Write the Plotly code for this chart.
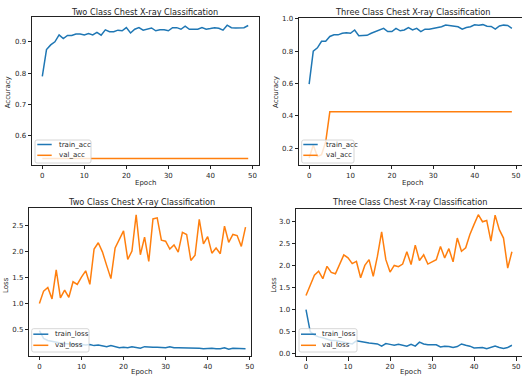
import plotly.graph_objects as go

epochs = list(range(50))

two_train_acc = [0.79, 0.875, 0.89, 0.90, 0.922, 0.91, 0.92, 0.92, 0.925, 0.925,
                 0.922, 0.926, 0.922, 0.93, 0.921, 0.938, 0.932, 0.932, 0.937, 0.935,
                 0.945, 0.928, 0.94, 0.945, 0.937, 0.94, 0.944, 0.935, 0.938, 0.938,
                 0.935, 0.945, 0.945, 0.94, 0.95, 0.94, 0.94, 0.94, 0.945, 0.94,
                 0.942, 0.945, 0.943, 0.937, 0.953, 0.945, 0.944, 0.945, 0.945, 0.952]
two_val_acc = [0.528] * 50

three_train_acc = [0.596, 0.80, 0.82, 0.86, 0.86, 0.89, 0.90, 0.90, 0.91, 0.913,
                   0.91, 0.93, 0.895, 0.897, 0.897, 0.91, 0.92, 0.93, 0.94, 0.92,
                   0.92, 0.94, 0.925, 0.93, 0.945, 0.93, 0.94, 0.92, 0.935, 0.935,
                   0.94, 0.945, 0.95, 0.96, 0.957, 0.955, 0.95, 0.935, 0.945, 0.95,
                   0.962, 0.96, 0.963, 0.953, 0.952, 0.935, 0.955, 0.96, 0.958, 0.94]
three_val_acc = [0.14, 0.22, 0.15, 0.16, 0.24] + [0.425] * 45

two_train_loss = [0.48, 0.33, 0.29, 0.27, 0.25, 0.24, 0.23, 0.22, 0.22, 0.21,
                  0.21, 0.20, 0.21, 0.19, 0.20, 0.19, 0.17, 0.19, 0.17, 0.15,
                  0.16, 0.15, 0.17, 0.15, 0.14, 0.17, 0.16, 0.16, 0.16, 0.16,
                  0.15, 0.17, 0.15, 0.15, 0.15, 0.14, 0.15, 0.15, 0.14, 0.13,
                  0.14, 0.14, 0.13, 0.13, 0.15, 0.12, 0.14, 0.14, 0.14, 0.13]
two_val_loss = [1.00, 1.24, 1.31, 1.09, 1.65, 1.11, 1.26, 1.12, 1.42, 1.37,
                1.51, 1.63, 1.37, 2.05, 2.17, 1.99, 1.73, 1.48, 2.07, 2.23,
                2.40, 1.85, 2.01, 2.71, 1.94, 2.28, 1.81, 2.63, 2.65, 2.22,
                2.20, 2.05, 2.13, 1.99, 2.37, 2.33, 1.83, 1.93, 2.62, 2.15,
                2.29, 1.97, 2.07, 1.96, 2.49, 2.18, 2.33, 2.31, 2.10, 2.47]

three_train_loss = [1.00, 0.50, 0.42, 0.38, 0.36, 0.33, 0.30, 0.30, 0.28, 0.27,
                    0.24, 0.22, 0.29, 0.28, 0.26, 0.24, 0.23, 0.22, 0.17, 0.23,
                    0.21, 0.19, 0.21, 0.19, 0.17, 0.21, 0.17, 0.26, 0.22, 0.20,
                    0.20, 0.20, 0.15, 0.17, 0.16, 0.14, 0.16, 0.22, 0.19, 0.17,
                    0.13, 0.13, 0.14, 0.11, 0.14, 0.17, 0.14, 0.12, 0.14, 0.19]
three_val_loss = [1.32, 1.53, 1.78, 1.87, 1.70, 1.98, 1.84, 1.81, 2.03, 2.24,
                  2.17, 2.04, 2.09, 1.72, 2.00, 2.13, 1.75, 2.21, 2.76, 2.13,
                  1.85, 2.00, 1.97, 2.03, 2.31, 2.02, 2.46, 2.11, 2.24, 2.03,
                  2.08, 2.13, 2.43, 2.17, 2.38, 2.08, 2.62, 2.32, 2.40, 2.70,
                  2.93, 3.15, 2.99, 3.02, 2.55, 3.14, 2.81, 2.62, 1.94, 2.31]

titles = ["Two Class Chest X-ray Classification", "Three Class Chest X-ray Classification",
          "Two Class Chest X-ray Classification", "Three Class Chest X-ray Classification"]
x_tick_vals = [0, 10, 20, 30, 40, 50]

BLUE = "#1f77b4"
ORANGE = "#ff7f0e"
W, H = 522, 376
FONT = "DejaVu Sans"
TXT = "#262626"
AX = "#222222"


def px(x):
    return x / W


def py(y):
    return 1 - y / H


# panel geometry (pixels): left, right, top, bottom
panels = [
    (32, 258.5, 17, 165),
    (299, 522, 18, 165),
    (29.3, 251, 208, 356),
    (296, 522, 208.5, 356.3),
]
xranges = [[-2.45, 51.45], [-2.45, 51.45], [-2.4, 50.3], [-2.38, 51.4]]
yranges = [[0.507, 0.979], [0.097, 1.004], [-0.01, 2.84], [-0.06, 3.29]]
yticks = [[0.6, 0.7, 0.8, 0.9], [0.2, 0.4, 0.6, 0.8, 1.0],
          [0.5, 1.0, 1.5, 2.0, 2.5], [0.0, 0.5, 1.0, 1.5, 2.0, 2.5, 3.0]]
ylabels = ["Accuracy", "Accuracy", "Loss", "Loss"]
series = [
    (two_train_acc, two_val_acc, "train_acc", "val_acc"),
    (three_train_acc, three_val_acc, "train_acc", "val_acc"),
    (two_train_loss, two_val_loss, "train_loss", "val_loss"),
    (three_train_loss, three_val_loss, "train_loss", "val_loss"),
]
# text placement (pixels)
title_pos = [(144.7, 11.7), (412, 11.7), (141.7, 202), (409, 202)]
epoch_pos = [(145, 183), (412, 182.5), (141, 372), (410, 372)]
ylab_pos = [(8.3, 92), (276, 92), (6, 285), (273.7, 285)]
# legend boxes: left, right, top, bottom, sample x0, x1, text x, row1 y, row2 y
legends = [
    (35, 91, 140, 163, 37.3, 51.7, 56.7, 144.5, 155.3),
    (301.7, 354, 140, 163, 303.3, 317.7, 323.7, 144.5, 155.3),
    (31.7, 89, 328.7, 352, 33.3, 48.3, 53.3, 334.2, 345.3),
    (299, 357, 328.7, 352, 301, 316, 320.3, 334.2, 345.3),
]

fig = go.Figure()
layout = dict(
    width=W, height=H, margin=dict(l=0, r=0, t=0, b=0, autoexpand=False),
    paper_bgcolor="white", plot_bgcolor="white",
    font=dict(family=FONT, size=7, color=TXT),
    annotations=[], shapes=[], showlegend=False,
)


def rounded_box(l, r, t, b, rad=2.0):
    pts = (
        f"M {px(l + rad)},{py(t)} L {px(r - rad)},{py(t)} Q {px(r)},{py(t)} {px(r)},{py(t + rad)} "
        f"L {px(r)},{py(b - rad)} Q {px(r)},{py(b)} {px(r - rad)},{py(b)} "
        f"L {px(l + rad)},{py(b)} Q {px(l)},{py(b)} {px(l)},{py(b - rad)} "
        f"L {px(l)},{py(t + rad)} Q {px(l)},{py(t)} {px(l + rad)},{py(t)} Z"
    )
    return pts


for i, (l, r, t, b) in enumerate(panels):
    k = "" if i == 0 else str(i + 1)
    tr, va, n1, n2 = series[i]
    fig.add_trace(go.Scatter(x=epochs, y=tr, mode="lines", name=n1,
                             line=dict(color=BLUE, width=1.5),
                             xaxis="x" + k, yaxis="y" + k))
    fig.add_trace(go.Scatter(x=epochs, y=va, mode="lines", name=n2,
                             line=dict(color=ORANGE, width=1.5),
                             xaxis="x" + k, yaxis="y" + k))
    right_cut = (r >= W)
    layout["xaxis" + k] = dict(
        domain=[px(l), min(px(r), 1.0)], range=xranges[i], anchor="y" + k,
        tickvals=x_tick_vals, ticks="outside", ticklen=3.5, tickwidth=0.8,
        tickcolor=AX, showline=True, linecolor=AX, linewidth=0.8, mirror=True,
        showgrid=False, zeroline=False, tickfont=dict(size=7, color=TXT),
        ticklabeloverflow="allow",
    )
    layout["yaxis" + k] = dict(
        domain=[py(b), py(t)], range=yranges[i], anchor="x" + k,
        tickvals=yticks[i], tickformat=".1f", ticks="outside", ticklen=3.5, tickwidth=0.8,
        tickcolor=AX, showline=True, linecolor=AX, linewidth=0.8,
        mirror=False if right_cut else True,
        showgrid=False, zeroline=False, tickfont=dict(size=7, color=TXT),
    )
    tx, ty = title_pos[i]
    layout["annotations"].append(dict(
        text=titles[i], x=px(tx), y=py(ty), xref="paper", yref="paper",
        xanchor="center", yanchor="middle", showarrow=False,
        font=dict(size=8.2, color=TXT, family=FONT)))
    ex, ey = epoch_pos[i]
    layout["annotations"].append(dict(
        text="Epoch", x=px(ex), y=py(ey), xref="paper", yref="paper",
        xanchor="center", yanchor="middle", showarrow=False,
        font=dict(size=7, color=TXT, family=FONT)))
    yx, yy = ylab_pos[i]
    layout["annotations"].append(dict(
        text=ylabels[i], x=px(yx), y=py(yy), xref="paper", yref="paper",
        xanchor="center", yanchor="middle", textangle=-90, showarrow=False,
        font=dict(size=7, color=TXT, family=FONT)))

    # legend (box, line samples, labels)
    bl, br, bt, bb, sx0, sx1, tx0, r1, r2 = legends[i]
    layout["shapes"].append(dict(
        type="path", path=rounded_box(bl, br, bt, bb), xref="paper", yref="paper",
        fillcolor="rgba(255,255,255,0.8)", line=dict(color="#cccccc", width=0.8),
        layer="above"))
    for yrow, col, name in ((r1, BLUE, n1), (r2, ORANGE, n2)):
        layout["shapes"].append(dict(
            type="line", x0=px(sx0), x1=px(sx1), y0=py(yrow), y1=py(yrow),
            xref="paper", yref="paper", line=dict(color=col, width=1.5), layer="above"))
        layout["annotations"].append(dict(
            text=name, x=px(tx0), y=py(yrow), xref="paper", yref="paper",
            xanchor="left", yanchor="middle", showarrow=False,
            font=dict(size=7, color=TXT, family=FONT)))

fig.update_layout(**layout)
fig.write_html("out.html", config={"displayModeBar": False},
               post_script="document.body.style.margin='0px';document.body.style.overflow='hidden';")
